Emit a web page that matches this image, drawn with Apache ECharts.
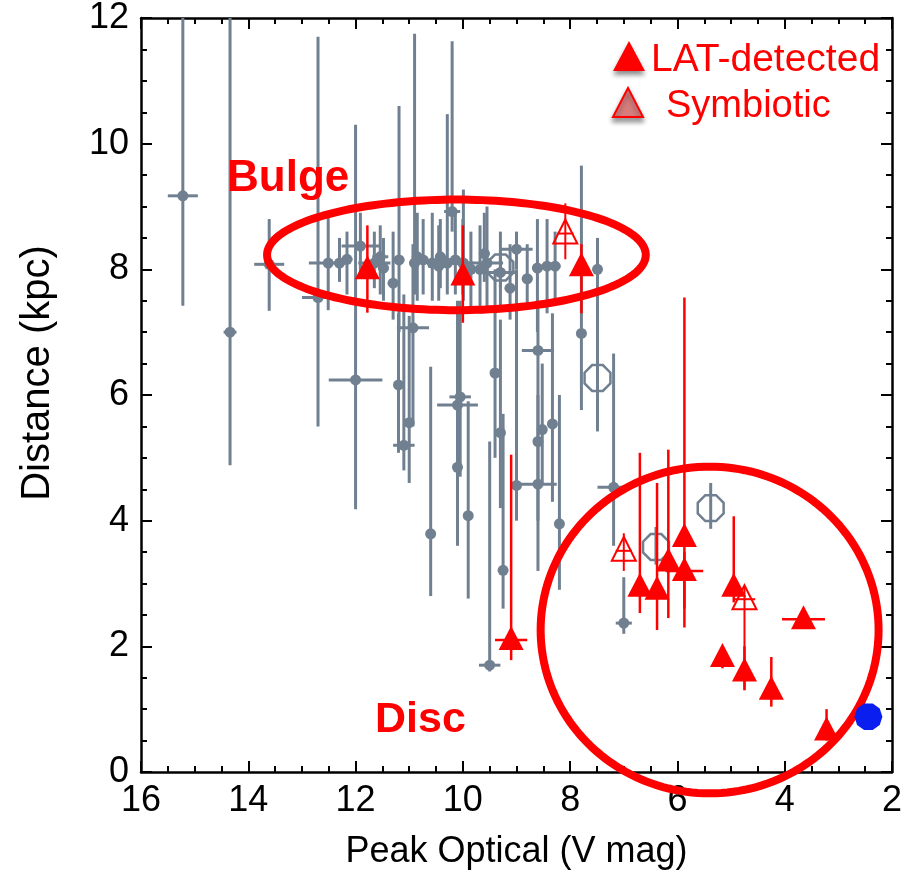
<!DOCTYPE html>
<html><head><meta charset="utf-8">
<script src="https://cdn.jsdelivr.net/npm/echarts@6/dist/echarts.min.js"></script>
<style>html,body{margin:0;padding:0;background:#fff}#c{width:913px;height:875px}</style>
</head><body><div id="c"></div>
<script>
// [peak V mag, distance kpc, lower end, upper end, x error]
const grayNovae = [
  [15.22, 9.17, 7.42, 12.5, 0.28], [14.34, 7.0, 4.88, 12.5, 0.12], [13.61, 8.08, 7.34, 8.8, 0.28],
  [12.7, 7.55, 5.5, 11.7, 0.3], [12.51, 8.1, 7.35, 8.9, 0.36], [12.3, 8.1, 7.8, 8.5, 0.1],
  [12.16, 8.16, 7.6, 8.6, 0.1], [12.0, 6.24, 4.18, 10.3, 0.5], [11.91, 8.37, 7.9, 8.9, 0.35],
  [11.65, 8.1, 7.7, 8.6, 0.3], [11.54, 8.2, 7.6, 8.7, 0.15], [11.48, 8.02, 7.5, 8.5, 0.1],
  [11.3, 7.78, 7.2, 8.6, 0.1], [11.2, 6.16, 5.08, 7.3, 0.05], [11.19, 8.15, 7.0, 10.6, 0.1],
  [11.1, 5.2, 4.8, 7.6, 0.2], [11.0, 5.56, 4.6, 7.26, 0.05], [10.93, 7.07, 5.5, 8.4, 0.3],
  [10.9, 8.1, 7.6, 11.75, 0.1], [10.85, 8.2, 7.5, 8.9, 0.1], [10.74, 8.15, 7.6, 8.8, 0.1],
  [10.6, 3.79, 2.8, 6.45, 0], [10.57, 8.1, 7.5, 8.9, 0.1], [10.45, 8.05, 7.5, 8.7, 0.2],
  [10.42, 8.2, 7.7, 8.8, 0.1], [10.29, 8.1, 7.6, 10.47, 0.1], [10.2, 8.92, 8.6, 11.63, 0.15],
  [10.14, 8.15, 7.6, 8.9, 0.1], [10.1, 5.84, 4.3, 7.5, 0.38], [10.05, 5.97, 4.7, 7.5, 0.2],
  [10.1, 4.85, 3.6, 6.0, 0], [10.0, 8.1, 7.6, 8.8, 0.2], [9.99, 8.1, 7.5, 9.27, 0.1],
  [9.9, 4.08, 2.76, 5.9, 0], [9.85, 8.0, 7.3, 8.6, 0.1], [9.68, 8.0, 7.3, 8.7, 0.1],
  [9.6, 8.25, 7.8, 8.9, 0.1], [9.55, 8.1, 7.4, 9.0, 0.3], [9.5, 1.7, 1.6, 5.26, 0.2],
  [9.4, 6.35, 5.0, 8.0, 0], [9.3, 5.4, 4.2, 7.2, 0.05], [9.3, 7.95, 7.4, 8.6, 0.3],
  [9.25, 3.21, 2.6, 5.7, 0], [9.12, 7.7, 7.2, 8.4, 0.1], [9.0, 8.32, 8.0, 8.6, 0.3],
  [9.0, 4.56, 4.0, 8.0, 0], [8.8, 7.85, 7.4, 8.4, 0.1], [8.61, 8.02, 7.0, 8.8, 0.1],
  [8.6, 6.71, 6.0, 7.5, 0.3], [8.52, 5.45, 4.6, 6.5, 0], [8.6, 5.26, 4.0, 6.0, 0.05],
  [8.6, 4.58, 3.2, 6.0, 0.35], [8.43, 8.05, 7.3, 8.8, 0.1], [8.33, 5.54, 4.3, 7.3, 0],
  [8.28, 8.05, 7.5, 8.6, 0.1], [8.2, 3.95, 2.9, 6.0, 0], [7.79, 6.98, 5.76, 9.65, 0],
  [7.49, 8.0, 7.3, 8.5, 0], [7.19, 4.53, 3.6, 6.66, 0.3], [7.0, 2.37, 2.2, 3.1, 0.15]
];
const grayOctagons = [
  [9.3, 8.03, 7.7, 8.3, 0], [7.49, 6.27, 5.42, 8.0, 0], [6.4, 3.58, 3.3, 3.9, 0], [5.38, 4.2, 3.87, 4.6, 0]
];
const latDetected = [
  [11.78, 8.0, 7.31, 8.7, 0], [10.0, 7.9, 7.15, 8.7, 0], [7.79, 8.05, 7.3, 8.4, 0],
  [9.1, 2.1, 1.78, 5.05, 0.3], [6.7, 2.95, 2.53, 5.08, 0], [6.38, 2.9, 2.26, 4.6, 0],
  [6.17, 3.35, 2.45, 5.13, 0], [5.87, 3.74, 2.3, 7.55, 0.1], [5.87, 3.2, 2.6, 3.5, 0.35],
  [4.95, 2.95, 2.7, 4.07, 0], [3.65, 2.43, 2.35, 2.5, 0.4], [5.16, 1.83, 1.65, 1.9, 0],
  [4.75, 1.6, 1.3, 2.0, 0], [4.25, 1.31, 1.04, 1.83, 0], [3.22, 0.66, 0.5, 1.0, 0]
];
const symbiotic = [
  [8.09, 8.57, 8.16, 9.05, 0.15], [7.0, 3.52, 3.2, 3.8, 0.15], [4.75, 2.75, 1.31, 2.95, 0.2]
];
const blueSource = [[2.44, 0.88]];
// [centre mag, centre kpc, half-width mag, half-height kpc]
const regions = [[10.12, 8.23, 3.53, 0.88], [5.40, 2.26, 3.15, 2.6]];
const regionLabels = ['Bulge', 'Disc'];
const legendLabels = ['LAT-detected', 'Symbiotic'];
const axisTitles = {x: 'Peak Optical (V mag)', y: 'Distance (kpc)'};
const xTicks = {min: 2, max: 16, step: 2};
const yTicks = {min: 0, max: 12, step: 2};

const GRAY = '#708090', RED = '#ff0000';
const FONT = '"Liberation Sans", Arial, Helvetica, sans-serif';

function polyPts(cx, cy, r, n, rot) {
  const pts = [];
  for (let i = 0; i < n; i++) {
    const a = rot + i * 2 * Math.PI / n;
    pts.push([cx + r * Math.cos(a), cy + r * Math.sin(a)]);
  }
  return pts;
}
function marker(kind, p) {
  const [x, y] = p;
  if (kind === 'dot') return {type: 'circle', shape: {cx: x, cy: y, r: 5.5}, style: {fill: GRAY}};
  if (kind === 'oct') return {type: 'polygon', shape: {points: polyPts(x, y, 14, 8, Math.PI / 8)}, style: {fill: 'none', stroke: GRAY, lineWidth: 2.5}};
  if (kind === 'tri') return {type: 'polygon', shape: {points: [[x, y - 14], [x - 12.5, y + 10], [x + 12.5, y + 10]]}, style: {fill: RED}};
  if (kind === 'otri') return {type: 'polygon', shape: {points: [[x, y - 14], [x - 12, y + 10], [x + 12, y + 10]]}, style: {fill: 'none', stroke: RED, lineWidth: 2}};
  return null;
}
function errRender(kind, color, lw) {
  return function (params, api) {
    const mx = api.value(0), d = api.value(1), lo = api.value(2), hi = api.value(3), xe = api.value(4);
    const p = api.coord([mx, d]);
    const pl = api.coord([mx, lo]), ph = api.coord([mx, Math.min(hi, yTicks.max)]);
    const ch = [{type: 'line', shape: {x1: p[0], y1: pl[1], x2: p[0], y2: ph[1]}, style: {stroke: color, lineWidth: lw}}];
    if (xe > 0) {
      const a = api.coord([mx - xe, d]), b = api.coord([mx + xe, d]);
      ch.push({type: 'line', shape: {x1: a[0], y1: p[1], x2: b[0], y2: p[1]}, style: {stroke: color, lineWidth: lw}});
    }
    ch.push(marker(kind, p));
    return {type: 'group', children: ch};
  };
}
function ellipseRender(params, api) {
  const c = api.coord([api.value(0), api.value(1)]);
  const s = api.size([api.value(2), api.value(3)]);
  const rx = Math.abs(s[0]), ry = Math.abs(s[1]);
  const pts = [];
  for (let i = 0; i < 180; i++) {
    const t = i * 2 * Math.PI / 180;
    pts.push([c[0] + rx * Math.cos(t), c[1] + ry * Math.sin(t)]);
  }
  return {type: 'polygon', shape: {points: pts}, style: {fill: 'none', stroke: RED, lineWidth: 8}};
}

const axisCommon = {
  axisLine: {show: true, onZero: false, lineStyle: {color: '#000', width: 2.5}},
  axisTick: {show: true, inside: true, length: 11, lineStyle: {color: '#000', width: 2}},
  minorTick: {show: true, splitNumber: 4, length: 6, lineStyle: {color: '#000', width: 2}},
  splitLine: {show: false}
};

const chart = echarts.init(document.getElementById('c'), null, {renderer: 'canvas'});
chart.setOption({
  backgroundColor: '#fff',
  animation: false,
  grid: {left: 141, right: 21, top: 15, bottom: 100, containLabel: false},
  xAxis: [
    Object.assign({type: 'value', position: 'bottom', inverse: true, min: xTicks.min, max: xTicks.max, interval: xTicks.step,
      axisLabel: {fontSize: 36, color: '#000', fontFamily: FONT, margin: 11},
      name: axisTitles.x, nameLocation: 'middle', nameGap: 62,
      nameTextStyle: {fontSize: 36, color: '#000', fontFamily: FONT}}, axisCommon),
    Object.assign({type: 'value', position: 'top', inverse: true, min: xTicks.min, max: xTicks.max, interval: xTicks.step,
      axisLabel: {show: false}}, axisCommon)
  ],
  yAxis: [
    Object.assign({type: 'value', position: 'left', min: yTicks.min, max: yTicks.max, interval: yTicks.step,
      axisLabel: {fontSize: 36, color: '#000', fontFamily: FONT, margin: 12}}, axisCommon),
    Object.assign({type: 'value', position: 'right', min: yTicks.min, max: yTicks.max, interval: yTicks.step,
      axisLabel: {show: false}}, axisCommon)
  ],
  series: [
    {type: 'custom', name: 'gray', clip: true, renderItem: errRender('dot', GRAY, 3), data: grayNovae, z: 2},
    {type: 'custom', name: 'oct', clip: true, renderItem: errRender('oct', GRAY, 3), data: grayOctagons, z: 2},
    {type: 'custom', name: 'regions', clip: false, renderItem: ellipseRender, data: regions, z: 3},
    {type: 'custom', name: 'LAT-detected', clip: true, renderItem: errRender('tri', RED, 2.5), data: latDetected, z: 4},
    {type: 'custom', name: 'Symbiotic', clip: true, renderItem: errRender('otri', RED, 2), data: symbiotic, z: 4},
    {type: 'custom', name: 'blue', clip: false, data: blueSource, z: 5,
      renderItem: function (params, api) {
        const p = api.coord([api.value(0), api.value(1)]);
        return {type: 'polygon', shape: {points: polyPts(p[0], p[1], 14, 10, 0)}, style: {fill: '#0a1ef0'}};
      }}
  ],
  graphic: [
    {type: 'text', x: 38, y: 373, rotation: Math.PI / 2, z: 10,
      style: {text: axisTitles.y, fontSize: 40, fill: '#000', fontFamily: FONT, align: 'center', verticalAlign: 'middle'}},
    {type: 'text', left: 227, top: 157, z: 10, style: {text: regionLabels[0], fontSize: 44, fontWeight: 'bold', fill: RED, fontFamily: FONT}},
    {type: 'text', left: 375, top: 699, z: 10, style: {text: regionLabels[1], fontSize: 43, fontWeight: 'bold', fill: RED, fontFamily: FONT}},
    {type: 'polygon', z: 10, shape: {points: [[629, 41], [613, 71], [645, 71]]},
      style: {fill: RED, shadowBlur: 5, shadowOffsetY: 4, shadowColor: 'rgba(0,0,0,0.45)'}},
    {type: 'text', left: 651, top: 41, z: 10, style: {text: legendLabels[0], fontSize: 39, fill: RED, fontFamily: FONT}},
    {type: 'polygon', z: 10, shape: {points: [[628, 88], [613, 117], [643, 117]]},
      style: {fill: 'rgba(226,120,120,0.85)', stroke: RED, lineWidth: 2, shadowBlur: 5, shadowOffsetY: 4, shadowColor: 'rgba(0,0,0,0.45)'}},
    {type: 'text', left: 666, top: 88, z: 10, style: {text: legendLabels[1], fontSize: 38, fill: RED, fontFamily: FONT}}
  ]
});
</script></body></html>
